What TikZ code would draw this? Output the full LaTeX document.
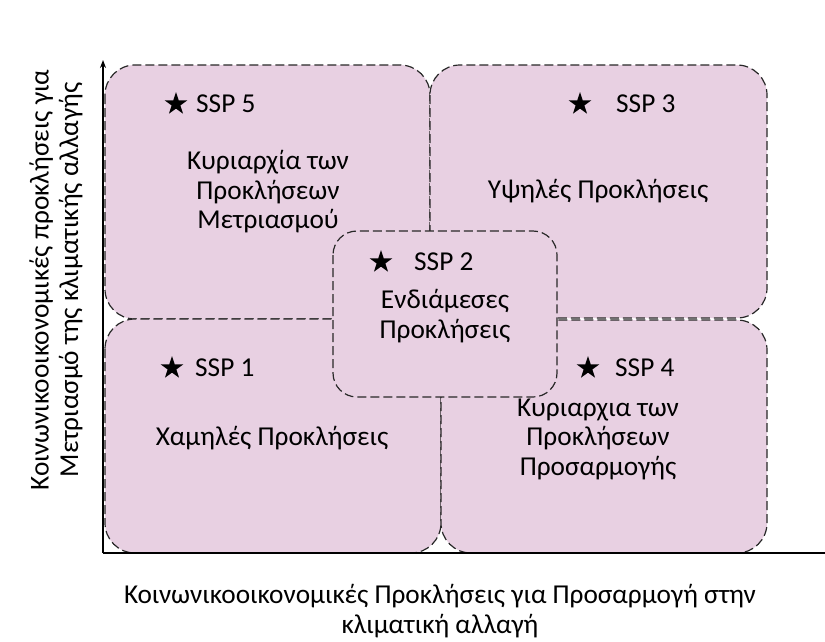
\documentclass[tikz,border=0pt]{standalone}
\usepackage{fontspec}
\setmainfont{Carlito}
\usetikzlibrary{shapes.geometric,arrows.meta}
\definecolor{boxpink}{RGB}{232,208,226}
\definecolor{edge}{RGB}{40,40,40}
\tikzset{
  quad/.style={draw=edge, fill=boxpink, line width=1.2pt, dash pattern=on 9pt off 4pt, rounded corners=30pt},
  midquad/.style={draw=edge, fill=boxpink, line width=1.2pt, dash pattern=on 9pt off 4pt, rounded corners=24pt},
  starmark/.style={star, star points=5, star point ratio=2.6, fill=black, inner sep=0pt, minimum size=24pt},
  lbl/.style={font=\fontsize{27.3}{29.5}\selectfont, align=center, inner sep=0pt},
  ssp/.style={font=\fontsize{27.3}{30}\selectfont, anchor=west, inner sep=0pt},
  axis/.style={line width=1.5pt, black},
}
\begin{document}
\begin{tikzpicture}[x=1pt,y=-1pt]
\useasboundingbox (0,0) rectangle (825,641);
% quadrants
\path[quad] (105,65) rectangle (430,319);
\path[quad] (430,65) rectangle (767,318);
\path[quad] (105,319) rectangle (441,553);
\path[quad] (441,320) rectangle (767,553);
\path[midquad] (333,231) rectangle (557,397);
% axes
\coordinate (origin) at (103,553);
\coordinate (ytop) at (103,60);
\coordinate (xend) at (830,553);
\draw[axis, -{Stealth[length=8pt,width=6pt]}] (origin) -- (ytop);
\draw[axis] (origin) -- (xend);
% SSP 5
\node[starmark] (s5) at (176,104) {};
\node[ssp] (t5) at (196,104) {SSP 5};
\node[lbl] (l5) at (268,192) {Κυριαρχία των\\Προκλήσεων\\Μετριασμού};
% SSP 3
\node[starmark] (s3) at (580,104) {};
\node[ssp] (t3) at (616,104) {SSP 3};
\node[lbl] (l3) at (598,191) {Υψηλές Προκλήσεις};
% SSP 2
\node[starmark] (s2) at (381,262) {};
\node[ssp] (t2) at (414,262) {SSP 2};
\node[lbl] (l2) at (445,316) {Ενδιάμεσες\\Προκλήσεις};
% SSP 1
\node[starmark] (s1) at (172,368) {};
\node[ssp] (t1) at (195,368) {SSP 1};
\node[lbl] (l1) at (272,438) {Χαμηλές Προκλήσεις};
% SSP 4
\node[starmark] (s4) at (588,368) {};
\node[ssp] (t4) at (615,368) {SSP 4};
\node[lbl] (l4) at (598,439) {Κυριαρχια των\\Προκλήσεων\\Προσαρμογής};
% axis labels
\node[lbl, rotate=90] (ylab) at (56,280) {Κοινωνικοοικονομικές προκλήσεις για\\Μετριασμό της κλιματικής αλλαγής};
\node[lbl] (xlab) at (440,611) {Κοινωνικοοικονομικές Προκλήσεις για Προσαρμογή στην\\κλιματική αλλαγή};
\end{tikzpicture}
\end{document}
